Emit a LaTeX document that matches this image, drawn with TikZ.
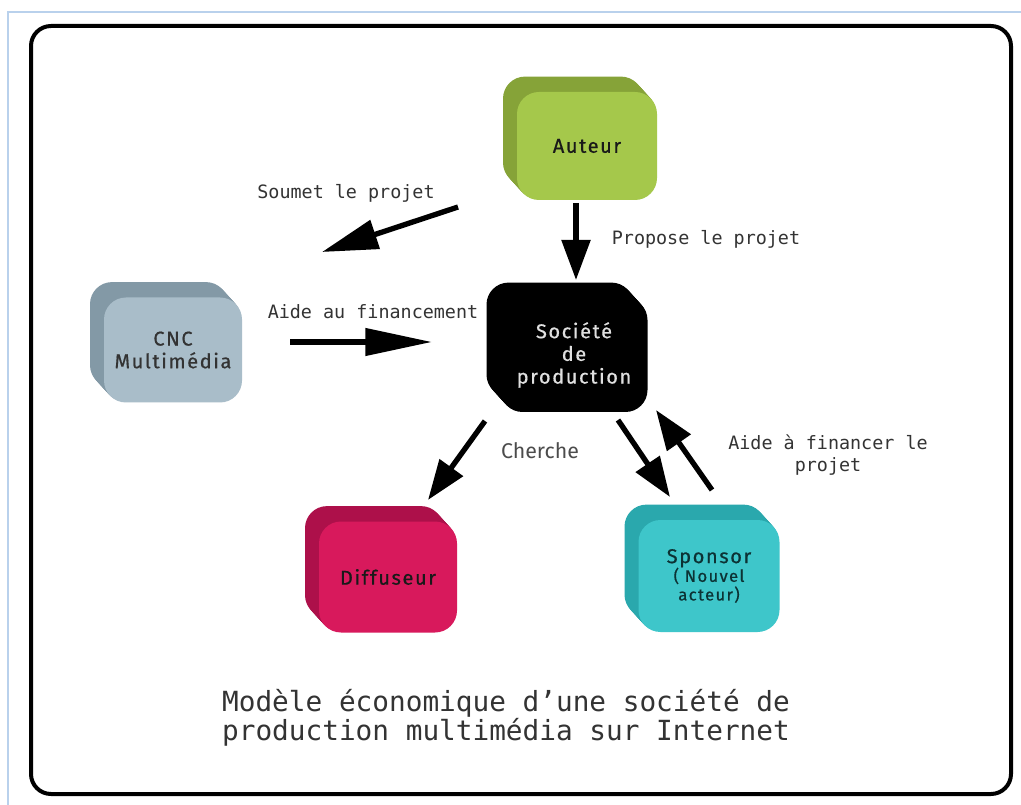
\documentclass[tikz,border=0pt]{standalone}
\usepackage{fontspec}
\usetikzlibrary{arrows.meta,calc}
\newfontfamily\monofont{DejaVu Sans Mono}
\newfontfamily\boxfont[LetterSpace=8,FakeBold=0.6]{Fira Sans}
\newfontfamily\labfont{Fira Sans}
\definecolor{frameblue}{HTML}{B9D1EC}
\definecolor{autfront}{HTML}{A5C84B}
\definecolor{autside}{HTML}{86A338}
\definecolor{cncfront}{HTML}{A9BDC9}
\definecolor{cncside}{HTML}{8399A6}
\definecolor{diffront}{HTML}{D8195C}
\definecolor{difside}{HTML}{AD104A}
\definecolor{spofront}{HTML}{3EC6CA}
\definecolor{sposide}{HTML}{2AA8AD}
\definecolor{labgray}{HTML}{333333}
% #1 name, #2 cx, #3 cy, #4 w, #5 h, #6 front colour, #7 side colour, #8 text colour, #9 text
\newcommand\cubebox[9]{%
  \foreach \k in {1,...,14} {
    \fill[#7, rounded corners=16.5pt] (#2-#4/2-\k, #3-#5/2-1.1*\k) rectangle ++(#4,#5);
  }
  \node[cubefront, fill=#6, text=#8, minimum width=#4*0.75pt, minimum height=#5*0.75pt] (#1) at (#2,#3) {#9};
}
\begin{document}
\begin{tikzpicture}[x=0.75pt,y=-0.75pt,
  cubefront/.style={rectangle, rounded corners=16.5pt, inner sep=0pt, align=center,
    font=\boxfont\fontsize{15pt}{17pt}\selectfont},
  arr/.style={line width=4pt, -{Triangle[length=30pt,width=21pt]}},
  lab/.style={font=\monofont\fontsize{13.8pt}{16.5pt}\selectfont, text=labgray, align=center, inner sep=0pt},
]
\useasboundingbox (0,0) rectangle (1021,805);
\fill[white] (0,0) rectangle (1021,805);
% outer light frame
\draw[frameblue, line width=1.5pt] (8,810) -- (8,12) -- (1030,12);
% black rounded frame
\draw[black, line width=3pt, rounded corners=15pt] (31,26) rectangle (1011,794);

% boxes
\cubebox{auteur}{587}{146}{140}{108}{autfront}{autside}{black!90}{Auteur}
\cubebox{cnc}{173}{350}{138}{105}{cncfront}{cncside}{black!80}{CNC\\Multimédia}
\cubebox{soc}{574}{355}{147}{114}{black}{black}{black!12}{Société\\de\\production}
\cubebox{diff}{388}{577}{138}{111}{diffront}{difside}{black!90}{Diffuseur}
\cubebox{spon}{709}{576}{141}{112}{spofront}{sposide}{black!70!sposide}{Sponsor\\[-3pt]{\fontsize{12.5pt}{13pt}\selectfont ( Nouvel}\\[-3pt]{\fontsize{12.5pt}{13pt}\selectfont acteur)}}

% arrow end points
\coordinate (s1) at (458,207); \coordinate (s2) at (322,252);
\coordinate (p1) at (576,203); \coordinate (p2) at (576,280);
\coordinate (a1) at (290,342); \coordinate (a2) at (432,342);
\coordinate (c1) at (485,421); \coordinate (c2) at (428,500);
\coordinate (d1) at (618,420); \coordinate (d2) at (670,497);
\coordinate (e1) at (712,490); \coordinate (e2) at (656,410);

\draw[arr, -{Triangle[length=42pt,width=22pt]}] (s1) -- (s2);
\draw[arr] (p1) -- (p2);
\draw[arr, -{Triangle[length=50pt,width=20pt]}] (a1) -- (a2);
\draw[arr] (c1) -- (c2);
\draw[arr] (d1) -- (d2);
\draw[arr] (e1) -- (e2);

% labels
\node[lab] (lsoumet) at (346,193) {Soumet le projet};
\node[lab] (lpropose) at (706,239) {Propose le projet};
\node[lab] (laide) at (373,312) {Aide au financement};
\node[lab, font=\labfont\fontsize{16pt}{18pt}\selectfont, text=black!70] (lcherche) at (540,451) {Cherche};
\node[lab] (lfin) at (828,455) {Aide à financer le\\projet};
\node[lab, font=\monofont\fontsize{20.8pt}{19.5pt}\selectfont, text=black!80] (caption) at (506,718)
  {Modèle économique d’une société de\\production multimédia sur Internet};
\end{tikzpicture}
\end{document}
